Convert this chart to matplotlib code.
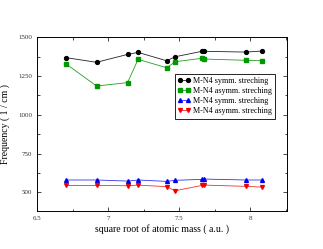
import matplotlib
matplotlib.use("Agg")
import matplotlib.pyplot as plt
from matplotlib.ticker import MultipleLocator

plt.rcParams['font.family'] = ['Liberation Serif', 'DejaVu Serif']

# sqrt of atomic mass (Sc..Zn)
x = [6.705, 6.919, 7.137, 7.211, 7.412, 7.473, 7.661, 7.677, 7.972, 8.086]
sym_high = [1369, 1339, 1390, 1403, 1349, 1375, 1410, 1410, 1405, 1412]
asym_high = [1328, 1186, 1208, 1358, 1304, 1343, 1365, 1360, 1352, 1349]
sym_low = [580, 580, 573, 580, 571, 578, 584, 586, 580, 580]
asym_low = [545, 545, 543, 547, 537, 511, 545, 547, 539, 534]

labels = ["M-N4 symm. streching", "M-N4 asymm. streching",
          "M-N4 symm. streching", "M-N4 asymm. streching"]

fig = plt.figure(figsize=(3.23, 2.49), dpi=100)
ax = fig.add_axes([0.1146, 0.1526, 0.7744, 0.6974])

ax.plot(x, sym_high, color='#222222', lw=0.6, marker='o', ms=2.8, mfc='black', mec='black', label=labels[0])
ax.plot(x, asym_high, color='#22a022', lw=0.6, marker='s', ms=2.5, mfc='#009900', mec='#009900', label=labels[1])
ax.plot(x, sym_low, color='#3333ee', lw=0.6, marker='^', ms=2.8, mfc='#0000ee', mec='#0000ee', label=labels[2])
ax.plot(x, asym_low, color='#ee3333', lw=0.6, marker='v', ms=2.8, mfc='#ee0000', mec='#ee0000', label=labels[3])

ax.set_xlim(6.5, 8.26)
ax.set_ylim(380, 1500)
ax.xaxis.set_major_locator(MultipleLocator(0.5))
ax.xaxis.set_minor_locator(MultipleLocator(0.25))
ax.yaxis.set_major_locator(MultipleLocator(250))
ax.yaxis.set_minor_locator(MultipleLocator(125))
ax.set_xticks([6.5, 7, 7.5, 8])
ax.set_xticklabels(["6.5", "7", "7.5", "8"])
ax.tick_params(which='both', direction='in', top=True, right=True,
               labelsize=5, labelcolor='#333333', width=0.5)
ax.tick_params(which='major', length=3)
ax.tick_params(which='minor', length=1.8)
for s in ax.spines.values():
    s.set_linewidth(0.7)

ax.set_xlabel("square root of atomic mass ( a.u. )", fontsize=7, labelpad=2)
ax.set_ylabel("Frequency ( 1 / cm )", fontsize=7, labelpad=6)

leg = ax.legend(loc='upper left', bbox_to_anchor=(0.55, 0.79), fontsize=5.9,
                numpoints=2, fancybox=False, edgecolor='black', framealpha=1,
                borderpad=0.4, labelspacing=0.25, handlelength=1.5,
                handletextpad=0.3, borderaxespad=0)
leg.get_frame().set_linewidth(0.6)

fig.savefig("out.png", dpi=100)
